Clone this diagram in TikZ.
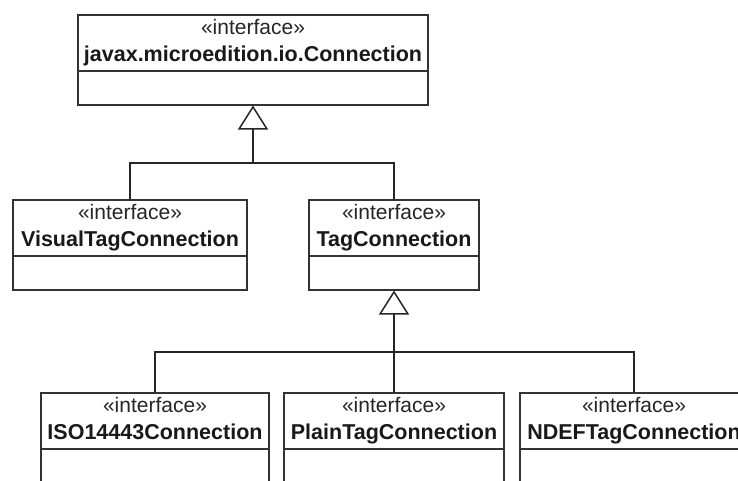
\documentclass[tikz,border=0pt]{standalone}
\usepackage{fontspec}
\setmainfont{Liberation Sans}
\usetikzlibrary{arrows.meta}
\newcommand\umlbox[5]{%
  \node[box, minimum width=#4 pt, minimum height=90pt, anchor=north] (#1) at (#2,#3) {};
  \draw[sep] (#1.west |- 0,{#3+57}) -- (#1.east |- 0,{#3+57});
  \node[stereo, anchor=base] (#1-st) at (#2,{#3+20}) {«interface»};
  \node[cname, anchor=base] (#1-nm) at (#2,{#3+47}) {#5};
}
\begin{document}
\begin{tikzpicture}[x=1pt,y=-1pt,
  box/.style={draw=black!80, line width=1.5pt, rectangle, inner sep=0pt, fill=white},
  stereo/.style={font=\fontsize{21}{21}\selectfont, text=black!85, inner sep=0pt},
  cname/.style={font=\fontsize{21.5}{21.5}\selectfont\bfseries, text=black!90, inner sep=0pt},
  sep/.style={draw=black!80, line width=1.5pt},
  conn/.style={draw=black!85, line width=1.5pt},
  gen/.style={conn, -{Triangle[open, length=24pt, width=30pt, line width=1.5pt]}}
]
\useasboundingbox (0,0) rectangle (738,480);
\clip (0,0) rectangle (738,480);
\fill[white] (0,0) rectangle (738,480);

\umlbox{conn}{253}{14}{350}{javax.microedition.io.Connection}
\umlbox{visual}{130}{199}{234}{VisualTagConnection}
\umlbox{tag}{394}{199}{170}{TagConnection}
\umlbox{iso}{155}{392}{228}{ISO14443Connection}
\umlbox{plain}{394}{392}{220}{PlainTagConnection}
\umlbox{ndef}{634}{392}{228}{NDEFTagConnection}

\coordinate (j1) at (253,163);
\coordinate (j2) at (394,352);
\draw[gen] (j1) -- (conn.south);
\draw[conn] (visual.north) |- (j1) -| (tag.north);
\draw[gen] (plain.north) -- (tag.south);
\draw[conn] (iso.north) |- (j2) -| (ndef.north);
\end{tikzpicture}
\end{document}
